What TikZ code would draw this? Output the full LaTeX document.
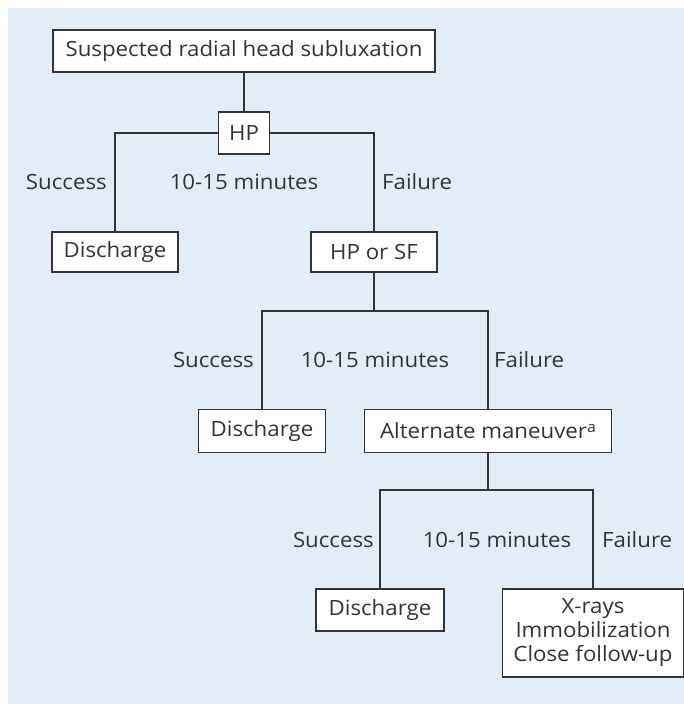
\documentclass[tikz,border=0pt]{standalone}
\usepackage{fontspec}
\setmainfont[FakeStretch=1.06]{Open Sans}
\definecolor{bg}{HTML}{E3EDF7}
\definecolor{ink}{HTML}{333333}
\newcommand{\supa}{\raisebox{0.32em}{\fontsize{15}{15}\selectfont a}}
\begin{document}
\begin{tikzpicture}[x=1pt,y=-1pt,
  font=\fontsize{21}{24}\selectfont,
  box/.style={draw=ink,line width=1.4pt,fill=white,text=ink,inner sep=0pt,align=center},
  lbl/.style={text=ink,inner sep=0pt},
  conn/.style={draw=ink,line width=1.4pt}]
\useasboundingbox (0,0) rectangle (684,704);
\fill[bg] (8,8) rectangle (684,704);
% boxes
\node[box,minimum width=382pt,minimum height=42pt] (top) at (244,51) {Suspected radial head subluxation};
\node[box,minimum width=51pt,minimum height=42pt] (hp) at (244,133) {HP};
\node[box,minimum width=126pt,minimum height=40pt] (d1) at (115,252) {Discharge};
\node[box,minimum width=126pt,minimum height=40pt] (hpsf) at (374,252) {HP or SF};
\node[box,minimum width=127pt,minimum height=43pt] (d2) at (262,431) {Discharge};
\node[box,minimum width=247pt,minimum height=43pt] (alt) at (488,431) {Alternate maneuver\supa};
\node[box,minimum width=128pt,minimum height=42pt] (d3) at (380,610) {Discharge};
\node[box,minimum width=181pt,minimum height=88pt] (xr) at (593,633) {X-rays\\Immobilization\\Close follow-up};
% labels
\node[lbl,anchor=east] (s1) at (107,182) {Success};
\node[lbl] (m1) at (244,182) {10-15 minutes};
\node[lbl,anchor=west] (f1) at (382,182) {Failure};
\node[lbl,anchor=east] (s2) at (254,360) {Success};
\node[lbl] (m2) at (375,360) {10-15 minutes};
\node[lbl,anchor=west] (f2) at (494,360) {Failure};
\node[lbl,anchor=east] (s3) at (374,540) {Success};
\node[lbl] (m3) at (497,540) {10-15 minutes};
\node[lbl,anchor=west] (f3) at (602,540) {Failure};
% connectors
\draw[conn] (top.south) -- (hp.north);
\draw[conn] (hp.west) -| (d1.north);
\draw[conn] (hp.east) -| (hpsf.north);
\coordinate (j2) at (374,311);
\draw[conn] (hpsf.south) -- (j2);
\draw[conn] (d2.north) |- (j2) -| (alt.north);
\coordinate (j3) at (488,490);
\draw[conn] (alt.south) -- (j3);
\draw[conn] (d3.north) |- (j3) -| (xr.north);
\end{tikzpicture}
\end{document}
